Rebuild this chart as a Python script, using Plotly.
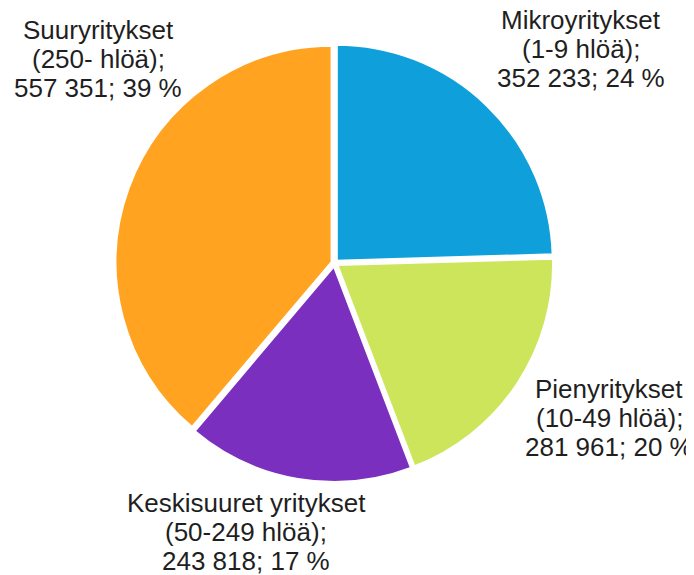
import plotly.graph_objects as go

categories = ["Mikroyritykset", "Pienyritykset", "Keskisuuret yritykset", "Suuryritykset"]
size_classes = ["(1-9 hlöä);", "(10-49 hlöä);", "(50-249 hlöä);", "(250- hlöä);"]
values = [352233, 281961, 243818, 557351]
value_texts = ["352 233; 24 %", "281 961; 20 %", "243 818; 17 %", "557 351; 39 %"]
colors = ["#0FA0DB", "#CDE55A", "#7B2FBE", "#FFA321"]

W, H = 694, 575
OFF = 8  # page body margin in the browser
cx, cy, half = 334.5 - OFF, 263 - OFF, 219.5

fig = go.Figure(go.Pie(
    labels=categories, values=values, sort=False, direction="clockwise", rotation=0,
    marker=dict(colors=colors, line=dict(color="white", width=3)),
    pull=0.012, textinfo="none", hoverinfo="label+value+percent",
    domain=dict(x=[(cx - half) / W, (cx + half) / W],
                y=[(H - cy - half) / H, (H - cy + half) / H]),
    showlegend=False,
))

# label block centres (pixels): x, y of first line
label_pos = [(581, 20), (609, 389), (246, 503), (98, 30)]
spacing = 29
annotations = []
for i in range(len(categories)):
    lines = [categories[i], size_classes[i], value_texts[i]]
    x0, y0 = label_pos[i]
    for j, t in enumerate(lines):
        annotations.append(dict(
            text=t, x=(x0 - OFF) / W, y=1 - (y0 - OFF + j * spacing) / H,
            xref="paper", yref="paper",
            xanchor="center", yanchor="middle", showarrow=False,
            font=dict(family="Liberation Sans, Arial", size=26, color="#1f1f1f"),
        ))

fig.update_layout(
    width=W, height=H, margin=dict(l=0, r=0, t=0, b=0),
    paper_bgcolor="white", plot_bgcolor="white", annotations=annotations,
)
fig.write_html("out.html")
